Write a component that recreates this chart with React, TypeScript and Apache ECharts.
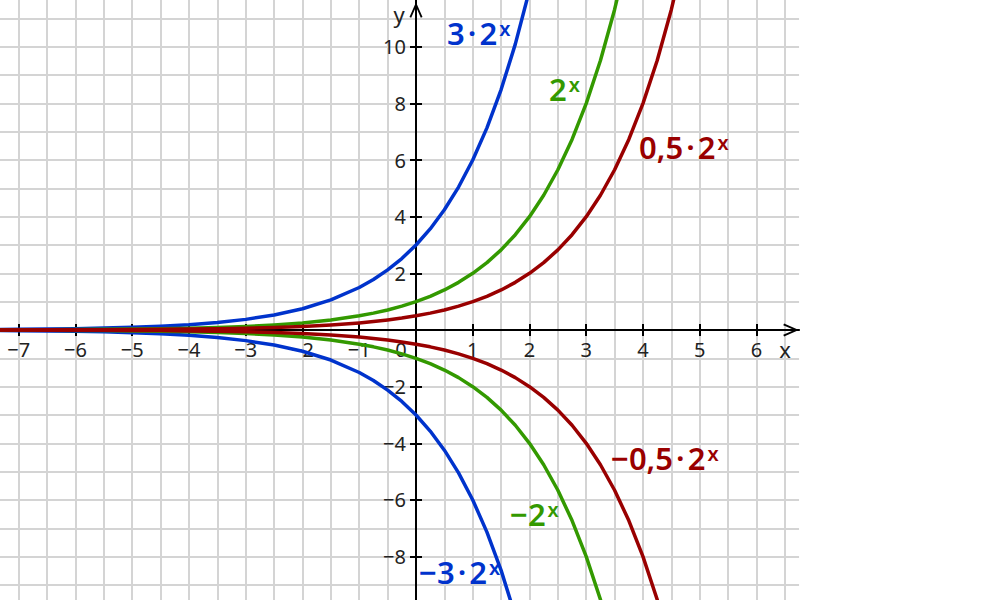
import React, { useEffect, useRef } from 'react';
import * as echarts from 'echarts';

// x sample positions
const X = [-7.5, -7, -6.5, -6, -5.5, -5, -4.5, -4, -3.5, -3, -2.5, -2, -1.5, -1, -0.75, -0.5, -0.25, 0, 0.25, 0.5, 0.75, 1, 1.25, 1.5, 1.75, 2, 2.25, 2.5, 2.75, 3, 3.25, 3.5, 3.75, 4, 4.25, 4.5, 4.75];

// 3·2^x
const Y_POS3 = [0.0166, 0.0234, 0.0331, 0.0469, 0.0663, 0.0938, 0.1326, 0.1875, 0.2652, 0.375, 0.5303, 0.75, 1.0607, 1.5, 1.7838, 2.1213, 2.5227, 3, 3.5676, 4.2426, 5.0454, 6, 7.1352, 8.4853, 10.0908, 12, 14.2705];
// −3·2^x
const Y_NEG3 = [-0.0166, -0.0234, -0.0331, -0.0469, -0.0663, -0.0938, -0.1326, -0.1875, -0.2652, -0.375, -0.5303, -0.75, -1.0607, -1.5, -1.7838, -2.1213, -2.5227, -3, -3.5676, -4.2426, -5.0454, -6, -7.1352, -8.4853, -10.0908, -12, -14.2705];
// 2^x
const Y_POS1 = [0.0055, 0.0078, 0.011, 0.0156, 0.0221, 0.03125, 0.0442, 0.0625, 0.0884, 0.125, 0.1768, 0.25, 0.3536, 0.5, 0.5946, 0.7071, 0.8409, 1, 1.1892, 1.4142, 1.6818, 2, 2.3784, 2.8284, 3.3636, 4, 4.7568, 5.6569, 6.7272, 8, 9.5137, 11.3137, 13.4543];
// −2^x
const Y_NEG1 = [-0.0055, -0.0078, -0.011, -0.0156, -0.0221, -0.03125, -0.0442, -0.0625, -0.0884, -0.125, -0.1768, -0.25, -0.3536, -0.5, -0.5946, -0.7071, -0.8409, -1, -1.1892, -1.4142, -1.6818, -2, -2.3784, -2.8284, -3.3636, -4, -4.7568, -5.6569, -6.7272, -8, -9.5137, -11.3137, -13.4543];
// 0,5·2^x
const Y_POSH = [0.0028, 0.0039, 0.0055, 0.0078, 0.011, 0.0156, 0.0221, 0.0313, 0.0442, 0.0625, 0.0884, 0.125, 0.1768, 0.25, 0.2973, 0.3536, 0.4204, 0.5, 0.5946, 0.7071, 0.8409, 1, 1.1892, 1.4142, 1.6818, 2, 2.3784, 2.8284, 3.3636, 4, 4.7568, 5.6569, 6.7272, 8, 9.5137, 11.3137, 13.4543];
// −0,5·2^x
const Y_NEGH = [-0.0028, -0.0039, -0.0055, -0.0078, -0.011, -0.0156, -0.0221, -0.0313, -0.0442, -0.0625, -0.0884, -0.125, -0.1768, -0.25, -0.2973, -0.3536, -0.4204, -0.5, -0.5946, -0.7071, -0.8409, -1, -1.1892, -1.4142, -1.6818, -2, -2.3784, -2.8284, -3.3636, -4, -4.7568, -5.6569, -6.7272, -8, -9.5137, -11.3137, -13.4543];

const X_TICKS = [-7, -6, -5, -4, -3, -2, -1, 0, 1, 2, 3, 4, 5, 6];
const Y_TICKS = [-8, -6, -4, -2, 2, 4, 6, 8, 10];

const BLUE = '#0033cc';
const GREEN = '#339900';
const RED = '#990000';

const FUNC_LABELS = [
  { main: '3\u200a·\u200a2', color: BLUE },
  { main: '2', color: GREEN },
  { main: '0,5\u200a·\u200a2', color: RED },
  { main: '\u22120,5\u200a·\u200a2', color: RED },
  { main: '\u22122', color: GREEN },
  { main: '\u22123\u200a·\u200a2', color: BLUE },
];
const FUNC_LABEL_POS = [
  [447, 33],
  [549, 89],
  [639, 147],
  [611, 458],
  [510, 514],
  [419, 572],
];

const X_MIN = -7.5;
const X_MAX = 6.75;
const Y_MIN = -10;
const Y_MAX = 11.648;

// layout (pixels)
const GRID_LEFT = -9.625;
const GRID_RIGHT = 200.94;
const GRID_TOP = 0;
const GRID_BOTTOM = -13.3;
const PLOT_W = 1000 - GRID_LEFT - GRID_RIGHT;
const PLOT_H = 600 - GRID_TOP - GRID_BOTTOM;
// shift of the axis lines from the grid edges to the zero lines
const X_AXIS_OFFSET = -(PLOT_H * (0 - Y_MIN)) / (Y_MAX - Y_MIN);
const Y_AXIS_OFFSET = -(PLOT_W * (0 - X_MIN)) / (X_MAX - X_MIN);

const ARROW = 'path://M6.5,0 L13,14.8 L11.3,15.6 L6.5,4.6 L1.7,15.6 L0,14.8 Z';
const FONT = "'Noto Sans', 'Open Sans', sans-serif";
const GRID_LINE = { color: '#d4d4d4', width: 2 };

const pairs = (ys: number[]) => ys.map((y, i) => [X[i], y]);
const fmtNum = (v: number) => (v === 0 ? '{zero|0}' : v < 0 ? '\u2212' + Math.abs(v) : String(v));

export default function App() {
  const ref = useRef<HTMLDivElement>(null);
  useEffect(() => {
    if (!ref.current) return;
    const chart = echarts.init(ref.current, undefined, { renderer: 'svg' });
    const labelStyle = { fontFamily: FONT, fontSize: 20, color: '#222' };
    const tickLine = { color: '#000', width: 2 };
    const baseX = { type: 'value', min: X_MIN, max: X_MAX, position: 'bottom' };
    const baseY = { type: 'value', min: Y_MIN, max: Y_MAX, position: 'left' };
    const series = [
      { data: pairs(Y_POS3), color: BLUE },
      { data: pairs(Y_NEG3), color: BLUE },
      { data: pairs(Y_POS1), color: GREEN },
      { data: pairs(Y_NEG1), color: GREEN },
      { data: pairs(Y_POSH), color: RED },
      { data: pairs(Y_NEGH), color: RED },
    ].map((s) => ({
      type: 'line',
      xAxisIndex: 0,
      yAxisIndex: 0,
      data: s.data,
      showSymbol: false,
      smooth: false,
      clip: true,
      lineStyle: { color: s.color, width: 3.5, join: 'round' },
      itemStyle: { color: s.color },
      z: 3,
    }));
    const graphics: any[] = FUNC_LABELS.map((l, i) => ({
      type: 'text',
      x: FUNC_LABEL_POS[i][0],
      y: FUNC_LABEL_POS[i][1],
      z: 10,
      style: {
        text: `{m|${l.main}}{s|x}`,
        fill: l.color,
        align: 'left',
        verticalAlign: 'middle',
        rich: {
          m: { fontFamily: FONT, fontSize: 31, fontWeight: 600, fill: l.color, lineHeight: 35 },
          s: { fontFamily: FONT, fontSize: 20, fontWeight: 600, fill: l.color, lineHeight: 20, verticalAlign: 'top', padding: [3, 0, 0, 2] },
        },
      },
    }));
    graphics.push(
      { type: 'text', x: 785, y: 349, z: 10, style: { text: 'x', fill: '#222', fontFamily: FONT, fontSize: 22, align: 'center', verticalAlign: 'middle' } },
      { type: 'text', x: 399, y: 14, z: 10, style: { text: 'y', fill: '#222', fontFamily: FONT, fontSize: 22, align: 'center', verticalAlign: 'middle' } }
    );
    chart.setOption({
      animation: false,
      backgroundColor: '#ffffff',
      grid: { left: GRID_LEFT, right: GRID_RIGHT, top: GRID_TOP, bottom: GRID_BOTTOM, containLabel: false, outerBoundsMode: 'none' },
      xAxis: [
        {
          ...baseX,
          interval: 0.5,
          axisLine: { show: false, onZero: false },
          axisTick: { show: false },
          axisLabel: { show: false },
          splitLine: { show: true, showMinLine: true, showMaxLine: false, lineStyle: GRID_LINE },
          z: 0,
        },
        {
          ...baseX,
          offset: X_AXIS_OFFSET,
          axisLine: {
            show: true,
            onZero: false,
            symbol: ['none', ARROW],
            symbolSize: [13, 16],
            symbolOffset: [0, -8],
            lineStyle: { color: '#000', width: 2 },
          },
          axisTick: { show: true, customValues: X_TICKS, length: 6, lineStyle: tickLine },
          axisLabel: {
            show: true,
            customValues: X_TICKS,
            margin: 10,
            ...labelStyle,
            formatter: fmtNum,
            rich: { zero: { ...labelStyle, padding: [0, 30, 0, 0] } },
          },
          splitLine: { show: false },
          z: 1,
        },
        {
          ...baseX,
          offset: X_AXIS_OFFSET,
          axisLine: { show: false, onZero: false },
          axisTick: { show: true, inside: true, customValues: X_TICKS, length: 6, lineStyle: tickLine },
          axisLabel: { show: false },
          splitLine: { show: false },
          z: 1,
        },
      ],
      yAxis: [
        {
          ...baseY,
          interval: 1,
          axisLine: { show: false, onZero: false },
          axisTick: { show: false },
          axisLabel: { show: false },
          splitLine: { show: true, showMinLine: true, showMaxLine: false, lineStyle: GRID_LINE },
          z: 0,
        },
        {
          ...baseY,
          offset: Y_AXIS_OFFSET,
          axisLine: {
            show: true,
            onZero: false,
            symbol: ['none', ARROW],
            symbolSize: [13, 16],
            symbolOffset: [0, -10],
            lineStyle: { color: '#000', width: 2 },
          },
          axisTick: { show: true, customValues: Y_TICKS, length: 6, lineStyle: tickLine },
          axisLabel: { show: true, customValues: Y_TICKS, margin: 10, ...labelStyle, formatter: fmtNum },
          splitLine: { show: false },
          z: 1,
        },
        {
          ...baseY,
          offset: Y_AXIS_OFFSET,
          axisLine: { show: false, onZero: false },
          axisTick: { show: true, inside: true, customValues: Y_TICKS, length: 6, lineStyle: tickLine },
          axisLabel: { show: false },
          splitLine: { show: false },
          z: 1,
        },
      ],
      series,
      graphic: graphics,
    });
    return () => chart.dispose();
  }, []);
  return <div ref={ref} style={{ position: 'absolute', left: 0, top: 0, width: 1000, height: 600 }} />;
}
